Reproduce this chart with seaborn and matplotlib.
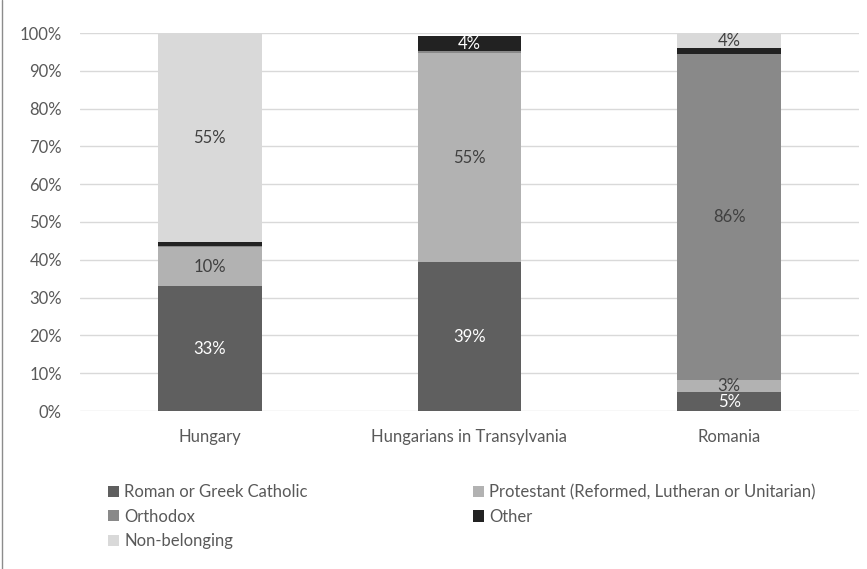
import numpy as np
import pandas as pd
import matplotlib
matplotlib.use("Agg")
import matplotlib.pyplot as plt
import seaborn as sns
from matplotlib.patches import Patch
from matplotlib.lines import Line2D

# data (share of population, %)
countries = ["Hungary", "Hungarians in Transylvania", "Romania"]
religions = ["Roman or Greek Catholic", "Protestant (Reformed, Lutheran or Unitarian)",
             "Orthodox", "Other", "Non-belonging"]
catholic = [33.0, 39.4, 4.9]
protestant = [10.4, 55.2, 3.4]
orthodox = [0.3, 0.6, 86.1]
other = [1.0, 4.0, 1.6]
non_belonging = [55.3, 0.0, 4.0]

colors = ["#5f5f5f", "#b2b2b2", "#898989", "#222222", "#d9d9d9"]
label_colors = ["white", "#404040", "#404040", "white", "#404040"]

sns.set_style("white")
plt.rcParams["font.family"] = ["Lato", "DejaVu Sans"]

values = [catholic, protestant, orthodox, other, non_belonging]

fig = plt.figure(figsize=(8.67, 5.69), dpi=100)
ax = fig.add_axes([80 / 867, 1 - 411 / 569, (859 - 80) / 867, (411 - 33) / 569])

bottom = np.zeros(len(countries))
for rel, vals, col, lc in zip(religions, values, colors, label_colors):
    vals = np.array(vals) / 100
    sns.barplot(x=countries, y=vals, bottom=bottom, color=col, width=0.4,
                ax=ax, saturation=1, linewidth=0)
    cont = ax.containers[-1]
    labels = [f"{v*100:.0f}%" if v >= 0.025 else "" for v in vals]
    ax.bar_label(cont, labels=labels, label_type="center", color=lc, fontsize=12)
    bottom = bottom + vals

ax.set_xlim(-0.5, 2.5)
ax.set_ylim(0, 1.0)
ticks = np.arange(0, 1.01, 0.1)
ax.set_yticks(ticks)
ax.set_yticklabels([f"{int(round(t*100))}%" for t in ticks])
ax.yaxis.grid(True, color="#d9d9d9", linewidth=1)
ax.set_axisbelow(True)
for s in ax.spines.values():
    s.set_visible(False)
ax.tick_params(axis="both", length=0, labelsize=12, colors="#595959")
ax.tick_params(axis="x", pad=13)
ax.tick_params(axis="y", pad=13)
ax.set_xlabel("")
ax.set_ylabel("")

def handles(idx):
    return [Patch(facecolor=colors[i], edgecolor="none", label=religions[i]) for i in idx]

leg_kw = dict(frameon=False, fontsize=12, handlelength=0.65, handleheight=0.65,
              handletextpad=0.3, labelspacing=0.5, borderpad=0, labelcolor="#595959")
fig.legend(handles=handles([0, 2, 4]), loc="upper left",
           bbox_to_anchor=(100 / 867, 1 - 476 / 569), **leg_kw)
fig.legend(handles=handles([1, 3]), loc="upper left",
           bbox_to_anchor=(465 / 867, 1 - 476 / 569), **leg_kw)

fig.add_artist(Line2D([1.5 / 867, 1.5 / 867], [0, 1], color="#8c8c8c", linewidth=1,
                      transform=fig.transFigure))

fig.savefig("out.png", dpi=100)
